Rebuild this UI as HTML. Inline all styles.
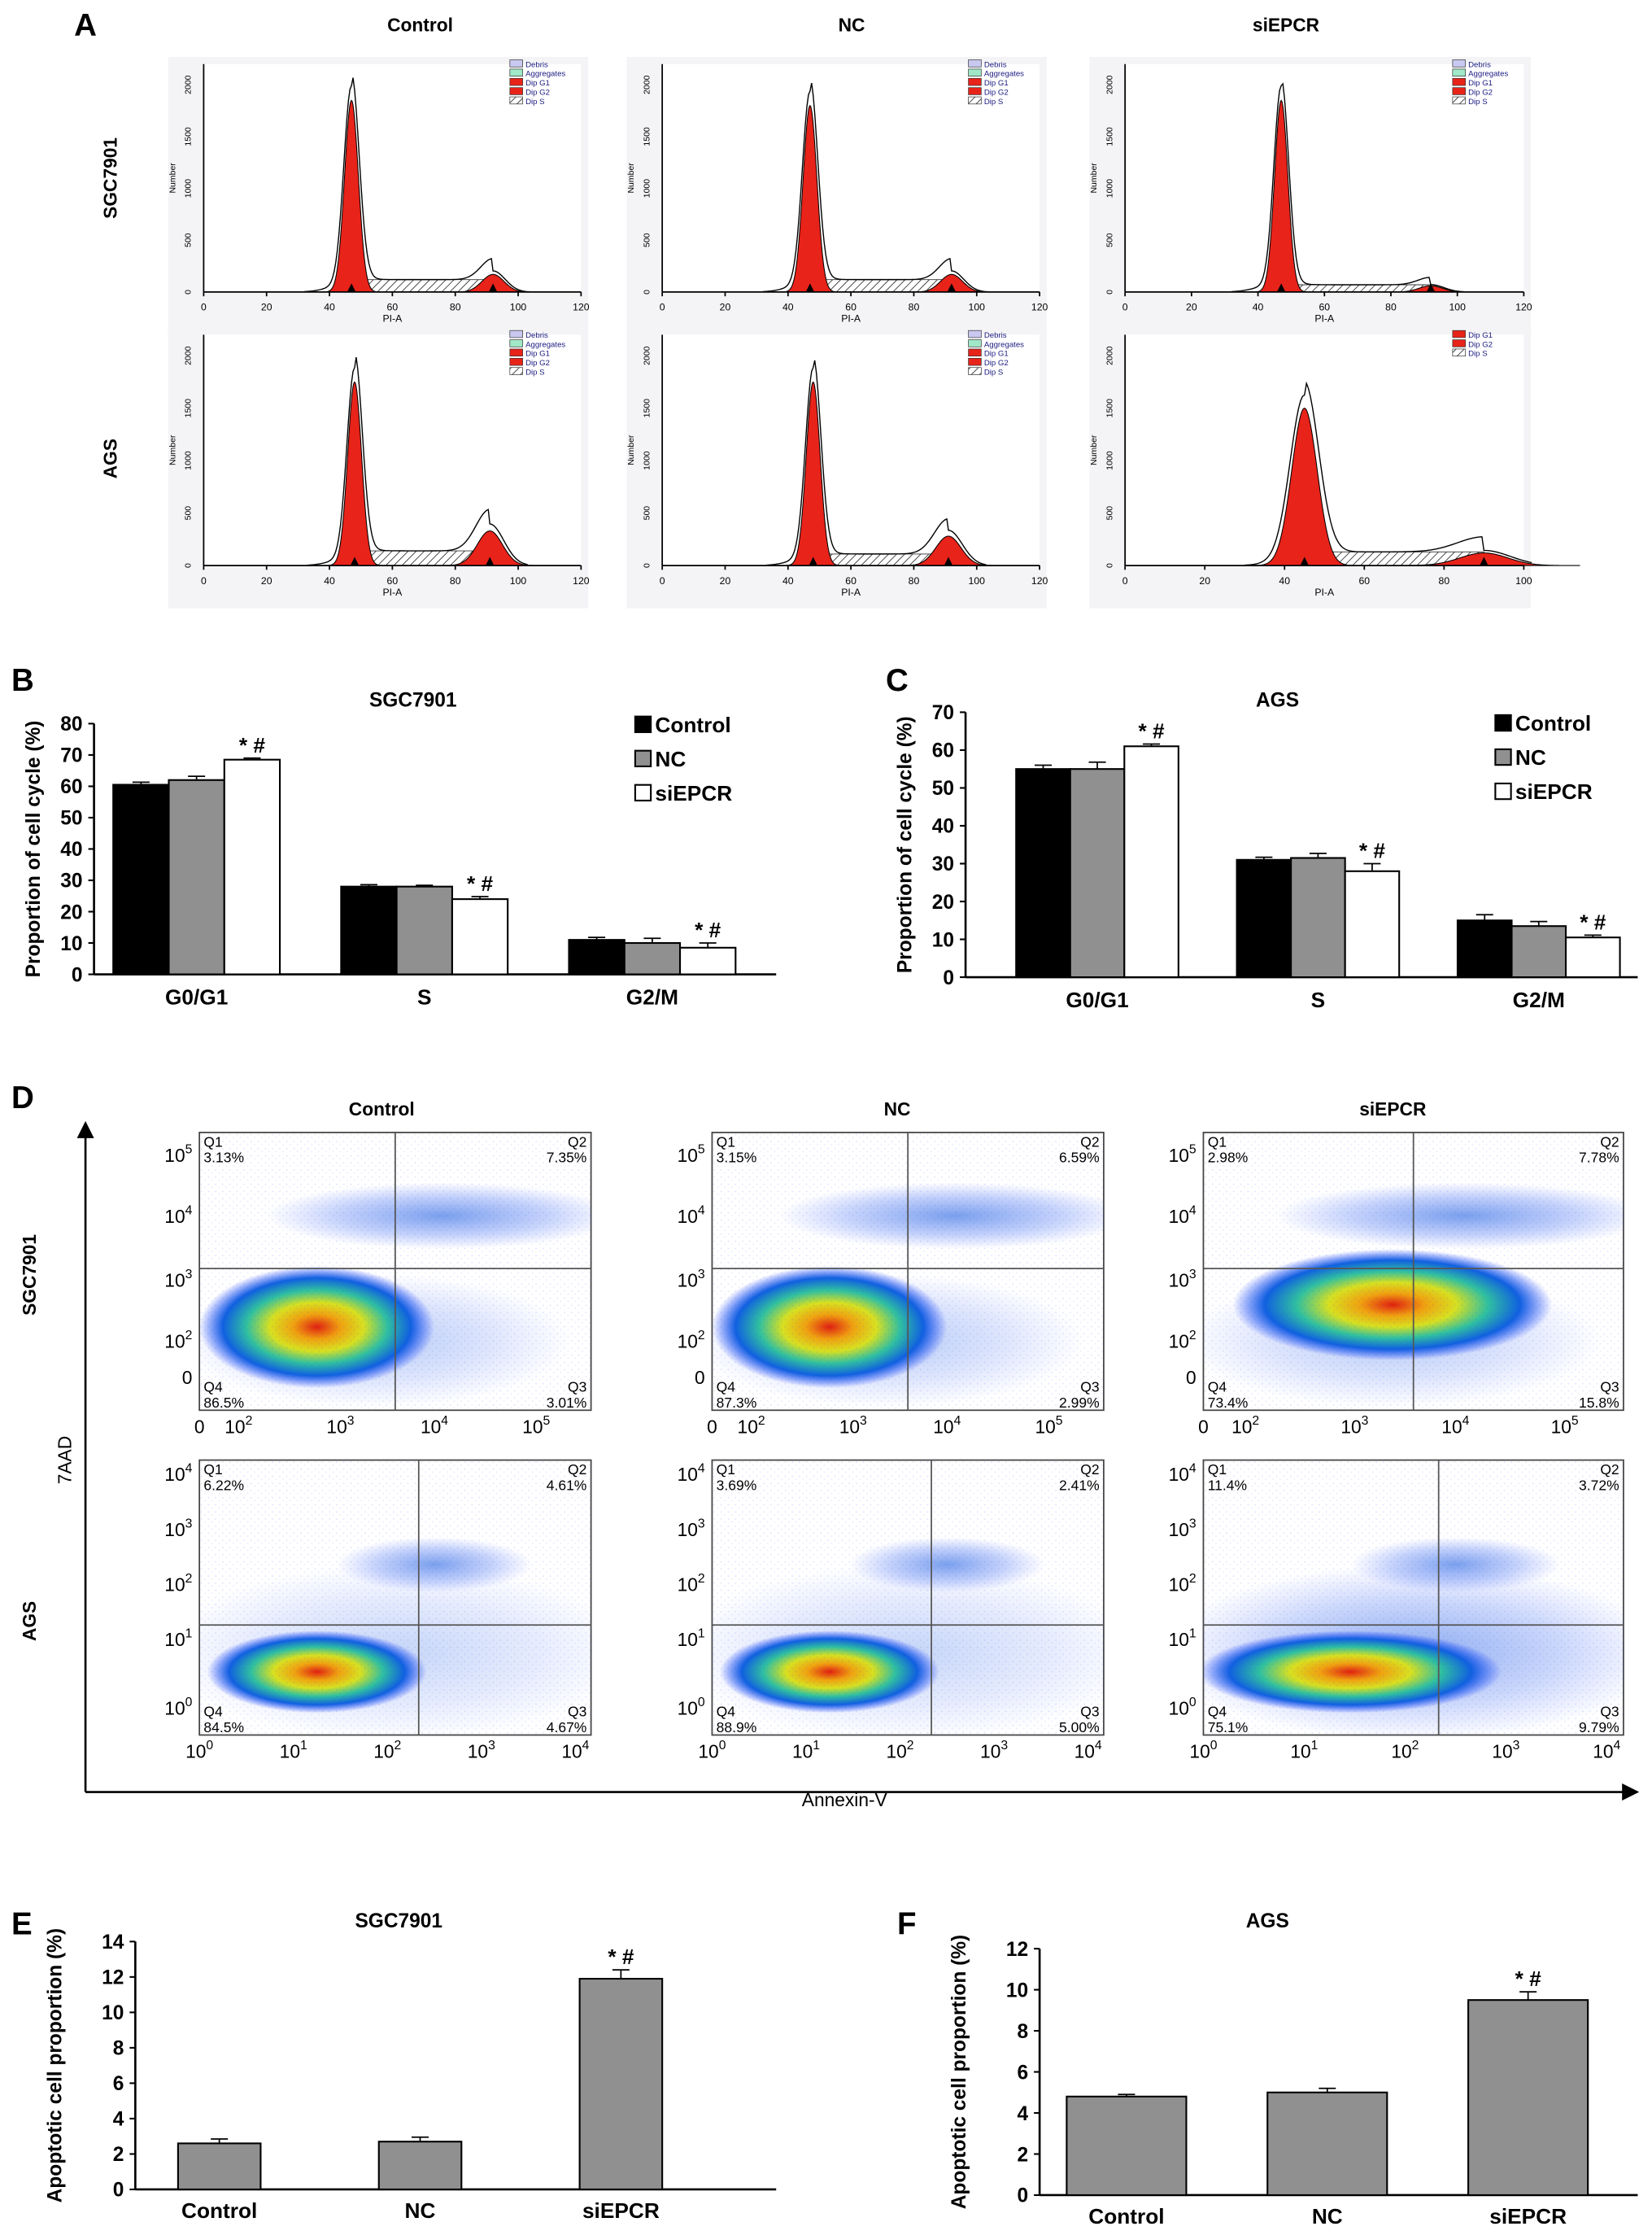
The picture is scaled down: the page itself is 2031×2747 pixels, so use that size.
<!DOCTYPE html>
<html><head><meta charset="utf-8"><style>
html,body{margin:0;padding:0;background:#fff}
svg{display:block;font-family:"Liberation Sans",Arial,sans-serif}
</style></head><body>
<svg id="fig" width="2031" height="2747" viewBox="0 0 1160 1569" xmlns="http://www.w3.org/2000/svg">
<defs>
<radialGradient id="dens" cx="50%" cy="50%" r="50%">
<stop offset="0" stop-color="#e02010"/><stop offset="0.2" stop-color="#f0a010"/><stop offset="0.4" stop-color="#d8e020"/><stop offset="0.6" stop-color="#30c0a0"/><stop offset="0.8" stop-color="#1060e0"/><stop offset="1" stop-color="#2040ff" stop-opacity="0"/>
</radialGradient>
<radialGradient id="densB" cx="50%" cy="50%" r="50%">
<stop offset="0" stop-color="#2060e0" stop-opacity="0.75"/><stop offset="0.6" stop-color="#3060f0" stop-opacity="0.35"/><stop offset="1" stop-color="#4060ff" stop-opacity="0"/>
</radialGradient>
<pattern id="hatch" width="4" height="4" patternUnits="userSpaceOnUse" patternTransform="rotate(45)"><rect width="4" height="4" fill="#fff"/><line x1="0" y1="0" x2="0" y2="4" stroke="#333" stroke-width="1"/></pattern>
<pattern id="speck" width="5" height="5" patternUnits="userSpaceOnUse"><rect x="1" y="1" width="0.8" height="0.8" fill="#3050e0" opacity="0.35"/><rect x="3.5" y="3" width="0.8" height="0.8" fill="#3050e0" opacity="0.25"/></pattern>
<marker id="arr" markerWidth="8" markerHeight="8" refX="6" refY="4" orient="auto"><path d="M0,0 L8,4 L0,8 z" fill="#000"/></marker>
</defs>
<g id="root"></g>
</svg>
<script>
// ---------- data ----------
const groups = ["Control","NC","siEPCR"];
const phases = ["G0/G1","S","G2/M"];
const sgcCycle = [[60.5,28.0,11.0],[62.0,28.0,10.0],[68.5,24.0,8.5]];
const sgcCycleErr = [[0.8,0.6,0.8],[1.2,0.4,1.5],[0.5,0.8,1.5]];
const agsCycle = [[55.0,31.0,15.0],[55.0,31.5,13.5],[61.0,28.0,10.5]];
const agsCycleErr = [[1.0,0.7,1.5],[1.8,1.2,1.2],[0.6,2.0,0.6]];
const sgcApop = [2.6,2.7,11.9];
const sgcApopErr = [0.25,0.25,0.5];
const agsApop = [4.8,5.0,9.5];
const agsApopErr = [0.1,0.2,0.4];
const yTicksB = [0,10,20,30,40,50,60,70,80];
const yTicksC = [0,10,20,30,40,50,60,70];
const yTicksE = [0,2,4,6,8,10,12,14];
const yTicksF = [0,2,4,6,8,10,12];
// histogram: [G1 mean, G1 height, G1 sd, G2 mean, G2 height, G2 sd, S level]
const histSGC = [[47,1850,2.2,92,170,3.5,120],[47,1800,2.2,92,170,3.5,120],[47,1850,2.0,92,60,3.5,70]];
const histAGS = [[48,1750,2.2,91,330,4,140],[48,1750,2.2,91,280,4,110],[45,1500,3.2,90,120,6,130]];
const quadSGC = [["3.13%","7.35%","86.5%","3.01%"],["3.15%","6.59%","87.3%","2.99%"],["2.98%","7.78%","73.4%","15.8%"]];
const quadAGS = [["6.22%","4.61%","84.5%","4.67%"],["3.69%","2.41%","88.9%","5.00%"],["11.4%","3.72%","75.1%","9.79%"]];

const NS="http://www.w3.org/2000/svg";
const root=document.getElementById('root');
function el(tag,attrs,parent,text){const e=document.createElementNS(NS,tag);for(const k in attrs)e.setAttribute(k,attrs[k]);if(text!==undefined)e.textContent=text;(parent||root).appendChild(e);return e;}

function panelLabel(t,x,y){const e=el('text',{x:x,y:y,'font-size':22,'font-weight':'bold'},root,t);

}
panelLabel('A',52,25);panelLabel('B',8,485);panelLabel('C',622,485);panelLabel('D',8,778);panelLabel('E',8,1358);panelLabel('F',630,1358);

// ---------- Panel A histograms ----------
const histCols=[[143,408],[465,730],[790,1070]];
const histRows=[[45,205],[235,397]];
function histogram(x0,x1,yTop,yBot,p,name,xmax,legend5){
 const g=el('g',{});
 
 
 const sx=v=>x0+(v/xmax)*(x1-x0), sy=v=>yBot-(v/2200)*(yBot-yTop);
 el('rect',{x:x0-25,y:yTop-5,width:x1-x0+30,height:yBot-yTop+35,fill:'#f4f4f6'},g);
 el('rect',{x:x0,y:yTop,width:x1-x0,height:yBot-yTop,fill:'#fff'},g);
 const gauss=(x,m,h,s)=>h*Math.exp(-0.5*((x-m)/s)**2);
 let sp=`M${sx(p[0])},${sy(0)}`;for(let v=p[0];v<=p[3];v+=1)sp+=` L${sx(v)},${sy(p[6])}`;sp+=` L${sx(p[3])},${sy(0)}Z`;
 el('path',{d:sp,fill:'url(#hatch)',stroke:'#333','stroke-width':0.5},g);
 for(const [m,h,s] of [[p[0],p[1],p[2]],[p[3],p[4],p[5]]]){
  let d=`M${sx(m-4*s)},${sy(0)}`;for(let v=m-4*s;v<=m+4*s;v+=0.25)d+=` L${sx(v)},${sy(gauss(v,m,h,s))}`;d+=` L${sx(m+4*s)},${sy(0)}Z`;
  el('path',{d:d,fill:'#e8231a',stroke:'#000','stroke-width':0.6},g);
 }
 let env='';for(let v=p[0]-15;v<=p[3]+12;v+=0.5){const sv=(v>p[0]&&v<p[3])?p[6]:0;const y=gauss(v,p[0],p[1]*1.05,p[2]*1.1)+gauss(v,p[3],p[4]*1.2,p[5]*1.1)+sv+gauss(v,p[0]-3,60,5);env+=(env?' L':'M')+sx(v)+','+sy(y);}
 el('path',{d:env,fill:'none',stroke:'#000','stroke-width':0.8},g);
 el('line',{x1:x0,y1:yBot,x2:x1,y2:yBot,stroke:'#000','stroke-width':1},g);
 el('line',{x1:x0,y1:yTop,x2:x0,y2:yBot,stroke:'#000','stroke-width':1},g);
 for(let v=0;v<=xmax;v+=20){el('line',{x1:sx(v),y1:yBot,x2:sx(v),y2:yBot+3,stroke:'#000'},g);el('text',{x:sx(v),y:yBot+13,'font-size':7,'text-anchor':'middle'},g,v);}
 for(let v=0;v<=2000;v+=500){el('text',{x:x0-9,y:sy(v),'font-size':6,'text-anchor':'middle',transform:`rotate(-90 ${x0-9} ${sy(v)})`},g,v);}
 el('text',{x:x0-20,y:(yTop+yBot)/2,'font-size':6,'text-anchor':'middle',transform:`rotate(-90 ${x0-20} ${(yTop+yBot)/2})`},g,'Number');
 el('text',{x:(x0+x1)/2,y:yBot+21,'font-size':7,'text-anchor':'middle'},g,'PI-A');
 for(const m of [p[0],p[3]])el('path',{d:`M${sx(m)-3},${yBot} L${sx(m)+3},${yBot} L${sx(m)},${yBot-6}Z`,fill:'#000'},g);
 const items=legend5?[['Debris','#c8c8f0'],['Aggregates','#a0e8c8'],['Dip G1','#e8231a'],['Dip G2','#e8231a'],['Dip S','url(#hatch)']]:[['Dip G1','#e8231a'],['Dip G2','#e8231a'],['Dip S','url(#hatch)']];
 items.forEach((it,i)=>{const ly=yTop-5+i*6.5+2;el('rect',{x:x1-50,y:ly,width:9,height:5,fill:it[1],stroke:'#333','stroke-width':0.4},g);el('text',{x:x1-39,y:ly+5,'font-size':5.5,fill:'#1a1a80'},g,it[0]);});
}
histCols.forEach((c,j)=>{
 histogram(c[0],c[1],histRows[0][0],histRows[0][1],histSGC[j],'histogram-sgc7901-'+groups[j].toLowerCase(),120,true);
 histogram(c[0],c[1],histRows[1][0],histRows[1][1],histAGS[j],'histogram-ags-'+groups[j].toLowerCase(),j==2?100:120,j!=2);
});
[['Control',295],['NC',598],['siEPCR',903]].forEach(t=>{const e=el('text',{x:t[1],y:22,'font-size':13,'font-weight':'bold','text-anchor':'middle'},root,t[0]);

});
[['SGC7901',125],['AGS',322]].forEach(t=>{const e=el('text',{x:82,y:t[1],'font-size':13,'font-weight':'bold','text-anchor':'middle',transform:`rotate(-90 82 ${t[1]})`},root,t[0]);

});

// ---------- Bar charts B/C ----------
function cycleChart(o){
 const g=el('g',{});
 
 
 const sy=v=>o.y0-(v/o.ymax)*(o.y0-o.yTop);
 el('line',{x1:o.x0,y1:o.yTop,x2:o.x0,y2:o.y0,stroke:'#000','stroke-width':1.5},g);
 el('line',{x1:o.x0,y1:o.y0,x2:o.x1,y2:o.y0,stroke:'#000','stroke-width':1.5},g);
 o.ticks.forEach(t=>{el('line',{x1:o.x0-4,y1:sy(t),x2:o.x0,y2:sy(t),stroke:'#000','stroke-width':1.2},g);el('text',{x:o.x0-8,y:sy(t)+5,'font-size':14,'font-weight':'bold','text-anchor':'end'},g,t);});
 const fills=['#000','#909090','#fff'];
 phases.forEach((ph,i)=>{
  const cx=o.x0+o.gap*(i+0.5)+o.off;
  groups.forEach((gr,k)=>{
   const v=o.vals[k][i],e=o.errs[k][i],bx=cx+(k-1.5)*o.bw;
   const r=el('rect',{x:bx,y:sy(v),width:o.bw,height:o.y0-sy(v),fill:fills[k],stroke:'#000','stroke-width':1.2},g);
   
   
   const ex=bx+o.bw/2;
   el('line',{x1:ex,y1:sy(v),x2:ex,y2:sy(v+e),stroke:'#000'},g);el('line',{x1:ex-6,y1:sy(v+e),x2:ex+6,y2:sy(v+e),stroke:'#000'},g);
   if(k==2)el('text',{x:ex,y:sy(v+e)-4,'font-size':15,'font-weight':'bold','text-anchor':'middle'},g,'* #');
  });
  el('text',{x:cx,y:o.y0+21,'font-size':15,'font-weight':'bold','text-anchor':'middle'},g,ph);
 });
 el('text',{x:o.tx,y:o.yTitle,'font-size':14,'font-weight':'bold','text-anchor':'middle'},g,o.title);
 const ym=(o.yTop+o.y0)/2;
 el('text',{x:o.x0-38,y:ym,'font-size':14,'font-weight':'bold','text-anchor':'middle',transform:`rotate(-90 ${o.x0-38} ${ym})`},g,'Proportion of cell cycle (%)');
 groups.forEach((gr,k)=>{const ly=o.ly+k*24;el('rect',{x:o.lx,y:ly-10,width:11,height:11,fill:fills[k],stroke:'#000','stroke-width':1.2},g);el('text',{x:o.lx+14,y:ly+1,'font-size':15,'font-weight':'bold'},g,gr);});
}
cycleChart({name:'chart-b-sgc7901',x0:66,x1:545,y0:684,yTop:508,ymax:80,ticks:yTicksB,gap:160,off:-8,bw:39,vals:sgcCycle,errs:sgcCycleErr,title:'SGC7901',tx:290,yTitle:496,lx:446,ly:513});
cycleChart({name:'chart-c-ags',x0:678,x1:1150,y0:686,yTop:500,ymax:70,ticks:yTicksC,gap:155,off:15,bw:38,vals:agsCycle,errs:agsCycleErr,title:'AGS',tx:897,yTitle:496,lx:1050,ly:512});

// ---------- Panel D scatter ----------
const scCols=[[140,415],[500,775],[845,1140]];
const scRows=[[795,990],[1025,1218]];
function scatter(x0,x1,yT,yB,q,name,row,j){
 const g=el('g',{});
 
 
 el('rect',{x:x0,y:yT,width:x1-x0,height:yB-yT,fill:'#fff',stroke:'#444','stroke-width':1},g);
 const w=x1-x0,h=yB-yT;
 const cid='clip-'+name;
 const cp=el('clipPath',{id:cid},g);el('rect',{x:x0,y:yT,width:w,height:h},cp);
 const inner=el('g',{'clip-path':`url(#${cid})`},g);
 if(row==0){
  el('ellipse',{cx:x0+w*0.62,cy:yT+h*0.3,rx:w*0.45,ry:h*0.12,fill:'url(#densB)',opacity:0.8},inner);
  el('ellipse',{cx:x0+w*0.45,cy:yT+h*0.75,rx:w*0.5,ry:h*0.24,fill:'url(#densB)','opacity':0.45},inner);
  el('ellipse',{cx:x0+w*(j==2?0.45:0.3),cy:yT+h*(j==2?0.62:0.7),rx:w*(j==2?0.38:0.3),ry:h*(j==2?0.2:0.22),fill:'url(#dens)'},inner);
 } else {
  el('ellipse',{cx:x0+w*0.5,cy:yT+h*0.7,rx:w*0.6,ry:h*0.32,fill:'url(#densB)',opacity:j==2?0.7:0.35},inner);
  el('ellipse',{cx:x0+w*0.6,cy:yT+h*0.38,rx:w*0.25,ry:h*0.1,fill:'url(#densB)',opacity:0.8},inner);
  el('ellipse',{cx:x0+w*(j==2?0.35:0.3),cy:yT+h*0.77,rx:w*(j==2?0.36:0.28),ry:h*0.15,fill:'url(#dens)'},inner);
 }
 el('rect',{x:x0,y:yT,width:w,height:h,fill:'url(#speck)',opacity:0.6},inner);
 const qx=x0+w*(row==0?0.5:0.56), qy=yT+h*(row==0?0.49:0.6);
 el('line',{x1:qx,y1:yT,x2:qx,y2:yB,stroke:'#555'},g);el('line',{x1:x0,y1:qy,x2:x1,y2:qy,stroke:'#555'},g);
 const fs=10;
 el('text',{x:x0+3,y:yT+10,'font-size':fs},g,'Q1');el('text',{x:x0+3,y:yT+21,'font-size':fs},g,q[0]);
 el('text',{x:x1-3,y:yT+10,'font-size':fs,'text-anchor':'end'},g,'Q2');el('text',{x:x1-3,y:yT+21,'font-size':fs,'text-anchor':'end'},g,q[1]);
 el('text',{x:x0+3,y:yB-13,'font-size':fs},g,'Q4');el('text',{x:x0+3,y:yB-2,'font-size':fs},g,q[2]);
 el('text',{x:x1-3,y:yB-13,'font-size':fs,'text-anchor':'end'},g,'Q3');el('text',{x:x1-3,y:yB-2,'font-size':fs,'text-anchor':'end'},g,q[3]);
 const yl=row==0?[['10','5',0.08],['10','4',0.3],['10','3',0.53],['10','2',0.75],['0','',0.88]]:[['10','4',0.05],['10','3',0.25],['10','2',0.45],['10','1',0.65],['10','0',0.9]];
 yl.forEach(t=>{const y=yT+h*t[2];const tx=el('text',{x:x0-5,y:y+5,'font-size':13,'text-anchor':'end'},g);tx.textContent=t[0];if(t[1]){el('tspan',{dy:-6,'font-size':9},tx,t[1]);}});
 const xl=row==0?[['0','',0.0],['10','2',0.1],['10','3',0.36],['10','4',0.6],['10','5',0.86]]:[['10','0',0.0],['10','1',0.24],['10','2',0.48],['10','3',0.72],['10','4',0.96]];
 xl.forEach(t=>{const x=x0+w*t[2];const tx=el('text',{x:x,y:yB+16,'font-size':13,'text-anchor':'middle'},g);tx.textContent=t[0];if(t[1])el('tspan',{dy:-6,'font-size':9},tx,t[1]);});
}
scCols.forEach((c,j)=>{scatter(c[0],c[1],scRows[0][0],scRows[0][1],quadSGC[j],'scatter-sgc7901-'+groups[j].toLowerCase(),0,j);scatter(c[0],c[1],scRows[1][0],scRows[1][1],quadAGS[j],'scatter-ags-'+groups[j].toLowerCase(),1,j);});
[['Control',268],['NC',630],['siEPCR',978]].forEach(t=>{const e=el('text',{x:t[1],y:783,'font-size':13,'font-weight':'bold','text-anchor':'middle'},root,t[0]);

});
[['SGC7901',895],['AGS',1138]].forEach(t=>{const e=el('text',{x:25,y:t[1],'font-size':13,'font-weight':'bold','text-anchor':'middle',transform:`rotate(-90 25 ${t[1]})`},root,t[0]);

});
let a1=el('line',{x1:60,y1:1258,x2:60,y2:790,stroke:'#000','stroke-width':1.5,'marker-end':'url(#arr)'});

let a2=el('line',{x1:60,y1:1258,x2:1148,y2:1258,stroke:'#000','stroke-width':1.5,'marker-end':'url(#arr)'});

let t7=el('text',{x:50,y:1025,'font-size':13,'text-anchor':'middle',transform:'rotate(-90 50 1025)'},root,'7AAD');

let tan=el('text',{x:593,y:1268,'font-size':13,'text-anchor':'middle'},root,'Annexin-V');


// ---------- Apoptosis charts E/F ----------
function apopChart(o){
 const g=el('g',{});
 
 
 const sy=v=>o.y0-(v/o.ymax)*(o.y0-o.yTop);
 el('line',{x1:o.x0,y1:o.yTop,x2:o.x0,y2:o.y0,stroke:'#000','stroke-width':1.5},g);
 el('line',{x1:o.x0,y1:o.y0,x2:o.x1,y2:o.y0,stroke:'#000','stroke-width':1.5},g);
 o.ticks.forEach(t=>{el('line',{x1:o.x0-4,y1:sy(t),x2:o.x0,y2:sy(t),stroke:'#000','stroke-width':1.2},g);el('text',{x:o.x0-8,y:sy(t)+5,'font-size':14,'font-weight':'bold','text-anchor':'end'},g,t);});
 groups.forEach((gr,k)=>{
  const v=o.vals[k],e=o.errs[k],cx=o.cx[0]+k*o.cx[1];
  const r=el('rect',{x:cx-o.bw/2,y:sy(v),width:o.bw,height:o.y0-sy(v),fill:'#909090',stroke:'#000','stroke-width':1.2},g);
  
  
  el('line',{x1:cx,y1:sy(v),x2:cx,y2:sy(v+e),stroke:'#000'},g);el('line',{x1:cx-6,y1:sy(v+e),x2:cx+6,y2:sy(v+e),stroke:'#000'},g);
  if(k==2)el('text',{x:cx,y:sy(v+e)-4,'font-size':15,'font-weight':'bold','text-anchor':'middle'},g,'* #');
  el('text',{x:cx,y:o.y0+20,'font-size':15,'font-weight':'bold','text-anchor':'middle'},g,gr);
 });
 el('text',{x:o.tx,y:1353,'font-size':14,'font-weight':'bold','text-anchor':'middle'},g,o.title);
 const ym=(o.yTop+o.y0)/2;
 el('text',{x:o.x0-52,y:ym,'font-size':14,'font-weight':'bold','text-anchor':'middle',transform:`rotate(-90 ${o.x0-52} ${ym})`},g,'Apoptotic cell proportion (%)');
}
apopChart({name:'chart-e-sgc7901',x0:95,x1:545,y0:1537,yTop:1363,ymax:14,ticks:yTicksE,cx:[154,141],bw:58,vals:sgcApop,errs:sgcApopErr,title:'SGC7901',tx:280});
apopChart({name:'chart-f-ags',x0:730,x1:1150,y0:1541,yTop:1368,ymax:12,ticks:yTicksF,cx:[791,141],bw:84,vals:agsApop,errs:agsApopErr,title:'AGS',tx:890});
</script>
</body></html>
